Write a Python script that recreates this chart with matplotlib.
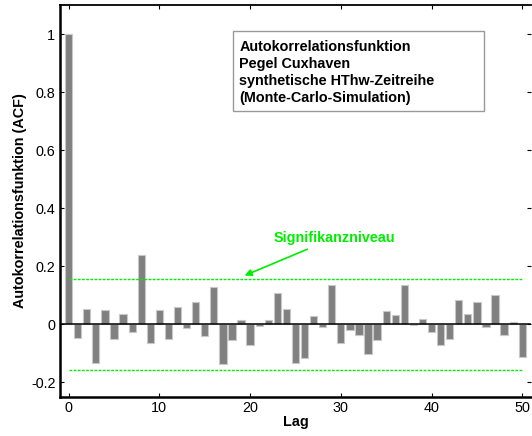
import matplotlib
matplotlib.use("Agg")
import matplotlib.pyplot as plt
from matplotlib.patches import Rectangle
import numpy as np

lags = list(range(0, 51))
acf = [1.0, -0.046, 0.051, -0.134, 0.048, -0.052, 0.034, -0.026, 0.240, -0.063,
       0.048, -0.052, 0.061, -0.014, 0.075, -0.039, 0.128, -0.137, -0.054, 0.015,
       -0.070, -0.006, 0.015, 0.108, 0.053, -0.134, -0.118, 0.030, -0.008, 0.134,
       -0.063, -0.021, -0.037, -0.103, -0.055, 0.045, 0.032, 0.134, -0.002, 0.017,
       -0.028, -0.070, -0.052, 0.084, 0.034, 0.077, -0.008, 0.100, -0.037, 0.006,
       -0.114]
sig_level = 0.157
yticks = [-0.2, 0, 0.2, 0.4, 0.6, 0.8, 1]
ytick_labels = ["-0.2", "0", "0.2", "0.4", "0.6", "0.8", "1"]
xticks = [0, 10, 20, 30, 40, 50]
box_text = ("Autokorrelationsfunktion\nPegel Cuxhaven\n"
            "synthetische HThw-Zeitreihe\n(Monte-Carlo-Simulation)")

plt.rcParams['font.family'] = ['Liberation Sans', 'DejaVu Sans']
FS = 10.4

fig = plt.figure(figsize=(5.32, 4.36), dpi=100)
ax = fig.add_axes([0.112, 0.0901, 0.8867, 0.8977])

green = '#00ee00'
ax.bar(lags, acf, width=0.8, color='#808080', edgecolor='#c8c8c8', linewidth=0.8, zorder=2)
ax.axhline(0, color='black', linewidth=1.1, zorder=3)
ax.hlines([sig_level, -sig_level], 0, 50, colors=green, linestyles=(0, (2, 1)), linewidth=1.0, zorder=4)

ax.set_xlim(-1, 51)
ax.set_ylim(-0.25, 1.1)
ax.set_xticks(xticks)
ax.set_yticks(yticks)
ax.set_yticklabels(ytick_labels)
ax.tick_params(direction='in', top=True, right=True, labelsize=FS, length=3, width=0.8, pad=3)
for s in ['left', 'bottom']:
    ax.spines[s].set_linewidth(1.8)
ax.spines['top'].set_linewidth(1.3)
ax.spines['right'].set_visible(False)

ax.set_xlabel('Lag', fontsize=FS, fontweight='bold', labelpad=0)
ax.set_ylabel('Autokorrelationsfunktion (ACF)', fontsize=FS, fontweight='bold', labelpad=3)

# text box (fixed-size frame as in the original)
ax.add_patch(Rectangle((18.15, 0.7366), 45.75 - 18.15, 1.011 - 0.7366,
                       facecolor='white', edgecolor='#999999', linewidth=1.0, zorder=5))
ax.text(18.8, 0.980, box_text, fontsize=FS, fontweight='bold', va='top', ha='left',
        linespacing=1.265, zorder=6)

ax.annotate('Signifikanzniveau', xy=(19.4, 0.168), xytext=(22.6, 0.298),
            fontsize=FS, fontweight='bold', color=green, va='center', ha='left',
            arrowprops=dict(arrowstyle='-|>', color=green, lw=1.2, shrinkA=3, shrinkB=0,
                            mutation_scale=10))

fig.savefig('out.png', dpi=100)
